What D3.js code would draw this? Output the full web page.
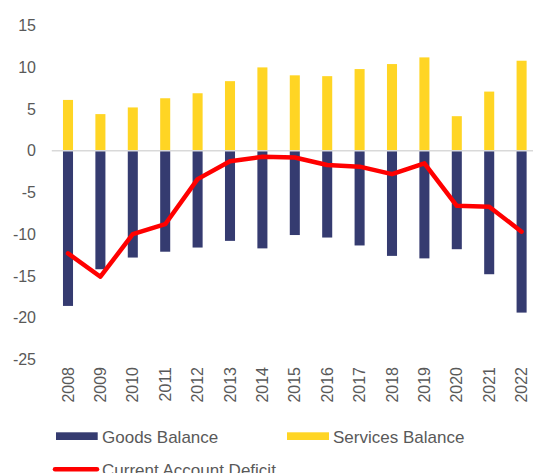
<!DOCTYPE html>
<html><head><meta charset="utf-8">
<script src="https://cdn.jsdelivr.net/npm/d3@7"></script>
<style>body{margin:0;background:#fff}svg{display:block}text{font-family:"Liberation Sans",Arial,sans-serif;fill:#595959}</style>
</head><body>
<svg id="c" width="533" height="473"></svg>
<script>
const years = ["2008","2009","2010","2011","2012","2013","2014","2015","2016","2017","2018","2019","2020","2021","2022"];
const goodsBalance = [-18.6,-14.2,-12.8,-12.1,-11.6,-10.8,-11.7,-10.1,-10.4,-11.35,-12.6,-12.9,-11.8,-14.8,-19.4];
const servicesBalance = [6.1,4.4,5.2,6.3,6.9,8.35,10.0,9.05,8.95,9.8,10.4,11.2,4.15,7.1,10.8];
const currentAccount = [-12.3,-15.1,-10.0,-8.8,-3.4,-1.25,-0.72,-0.8,-1.7,-1.9,-2.8,-1.5,-6.6,-6.7,-9.7];
const yTicks = [15,10,5,0,-5,-10,-15,-20,-25];
const legendItems = ["Goods Balance","Services Balance","Current Account Deficit"];

const navy = "#353B70", yellow = "#FFD524", red = "#FF0000";
const svg = d3.select("#c");
const y = d3.scaleLinear().domain([-25,15]).range([359.3,25.7]);
const x = d3.scaleBand().domain(years).range([51.8,537.8]).paddingInner(0.69).paddingOuter(0.345);

// y tick labels
svg.append("g").selectAll("text").data(yTicks).join("text")
  .attr("x",36).attr("y",d=>y(d)).attr("dy","0.35em").attr("text-anchor","end")
  .style("font-size","16px").text(d=>d);

// bars
svg.append("g").selectAll("rect").data(years).join("rect")
  .attr("x",d=>x(d)).attr("width",x.bandwidth())
  .attr("y",(d,i)=>y(servicesBalance[i])).attr("height",(d,i)=>y(0)-y(servicesBalance[i]))
  .attr("fill",yellow);
svg.append("g").selectAll("rect").data(years).join("rect")
  .attr("x",d=>x(d)).attr("width",x.bandwidth())
  .attr("y",y(0)).attr("height",(d,i)=>y(goodsBalance[i])-y(0))
  .attr("fill",navy);

// zero line
svg.append("line").attr("x1",51.8).attr("x2",537.8).attr("y1",y(0)).attr("y2",y(0))
  .attr("stroke","#D9D9D9").attr("stroke-width",1.5);

// line
const line = d3.line().x((d,i)=>x(years[i])+x.bandwidth()/2).y(d=>y(d));
svg.append("path").datum(currentAccount).attr("d",line).attr("fill","none")
  .attr("stroke",red).attr("stroke-width",4.5).attr("stroke-linejoin","round").attr("stroke-linecap","round");

// x labels
svg.append("g").selectAll("text").data(years).join("text")
  .attr("transform",d=>`translate(${x(d)+x.bandwidth()/2},367) rotate(-90)`)
  .attr("dy","0.35em").attr("text-anchor","end").style("font-size","16px").text(d=>d);

// legend
const lg = svg.append("g").style("font-size","17px");
lg.append("rect").attr("x",56).attr("y",432.3).attr("width",41.7).attr("height",7.7).attr("fill",navy);
lg.append("text").attr("x",102).attr("y",442.5).text(legendItems[0]);
lg.append("rect").attr("x",287).attr("y",432.3).attr("width",42).attr("height",7.7).attr("fill",yellow);
lg.append("text").attr("x",333).attr("y",442.5).text(legendItems[1]);
lg.append("line").attr("x1",55).attr("x2",97).attr("y1",469.3).attr("y2",469.3)
  .attr("stroke",red).attr("stroke-width",4.5).attr("stroke-linecap","round");
lg.append("text").attr("x",102).attr("y",476).text(legendItems[2]);
</script>
</body></html>
